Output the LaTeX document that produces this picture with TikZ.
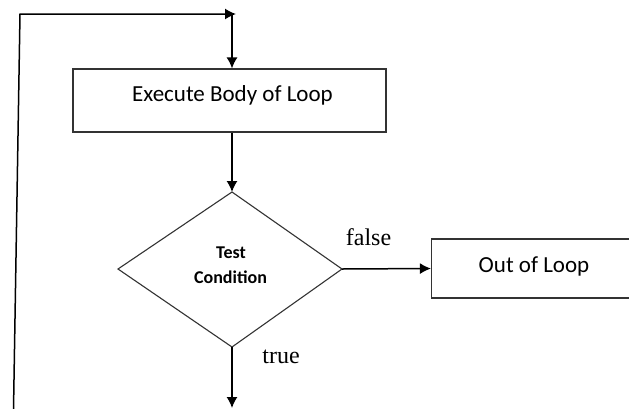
\documentclass[tikz,border=0pt]{standalone}
\usepackage{fontspec}
\setmainfont{Liberation Serif}
\newfontfamily\bodyfont{Carlito}
\usetikzlibrary{arrows.meta}
\begin{document}
\begin{tikzpicture}[x=1pt,y=-1pt,
  procbox/.style={draw=black!80,line width=1.1pt,inner sep=0pt},
  boxtext/.style={anchor=base,inner sep=0pt,font=\bodyfont\fontsize{23}{27}\selectfont},
  condtext/.style={anchor=base,inner sep=0pt,font=\bodyfont\bfseries\fontsize{18}{22}\selectfont},
  flow/.style={line width=1.5pt,-{Latex[length=11pt,width=11pt]}},
  lbl/.style={anchor=base,inner sep=0pt,font=\fontsize{24}{28}\selectfont}]
\useasboundingbox (0,0) rectangle (629,408);
% process boxes
\node[procbox,minimum width=313pt,minimum height=63pt] (body) at (229.5,100.5) {};
\node[boxtext] (bodytxt) at (232.5,101) {Execute Body of Loop};
\node[procbox,minimum width=205pt,minimum height=59pt] (out) at (534,268.5) {};
\node[boxtext] (outtxt) at (534,272) {Out of Loop};
% decision diamond drawn from its four corners
\coordinate (dtop) at (232,192);
\coordinate (dleft) at (118,269);
\coordinate (dright) at (342,269);
\coordinate (dbot) at (232,347);
\draw[line width=1.1pt,black!80] (dtop) -- (dright) -- (dbot) -- (dleft) -- cycle;
\node[condtext] (cond1) at (231,258) {Test};
\node[condtext] (cond2) at (230.5,283) {Condition};
% loop-back line
\coordinate (lb) at (13.5,410);
\coordinate (lt) at (20,14);
\coordinate (ltop) at (236,14);
\coordinate (tdown) at (232,14);
\draw[flow] (lb) -- (lt) -- (ltop);
\draw[flow] (tdown) -- (body.north -| tdown);
% body to condition
\draw[flow] (body.south -| dtop) -- (dtop);
% false branch
\draw[flow] (dright) -- (out.west);
\node[lbl] (f) at (368.5,245) {false};
% true branch
\coordinate (tend) at (232,408);
\draw[flow] (dbot) -- (tend);
\node[lbl] (t) at (281,363) {true};
\end{tikzpicture}
\end{document}
